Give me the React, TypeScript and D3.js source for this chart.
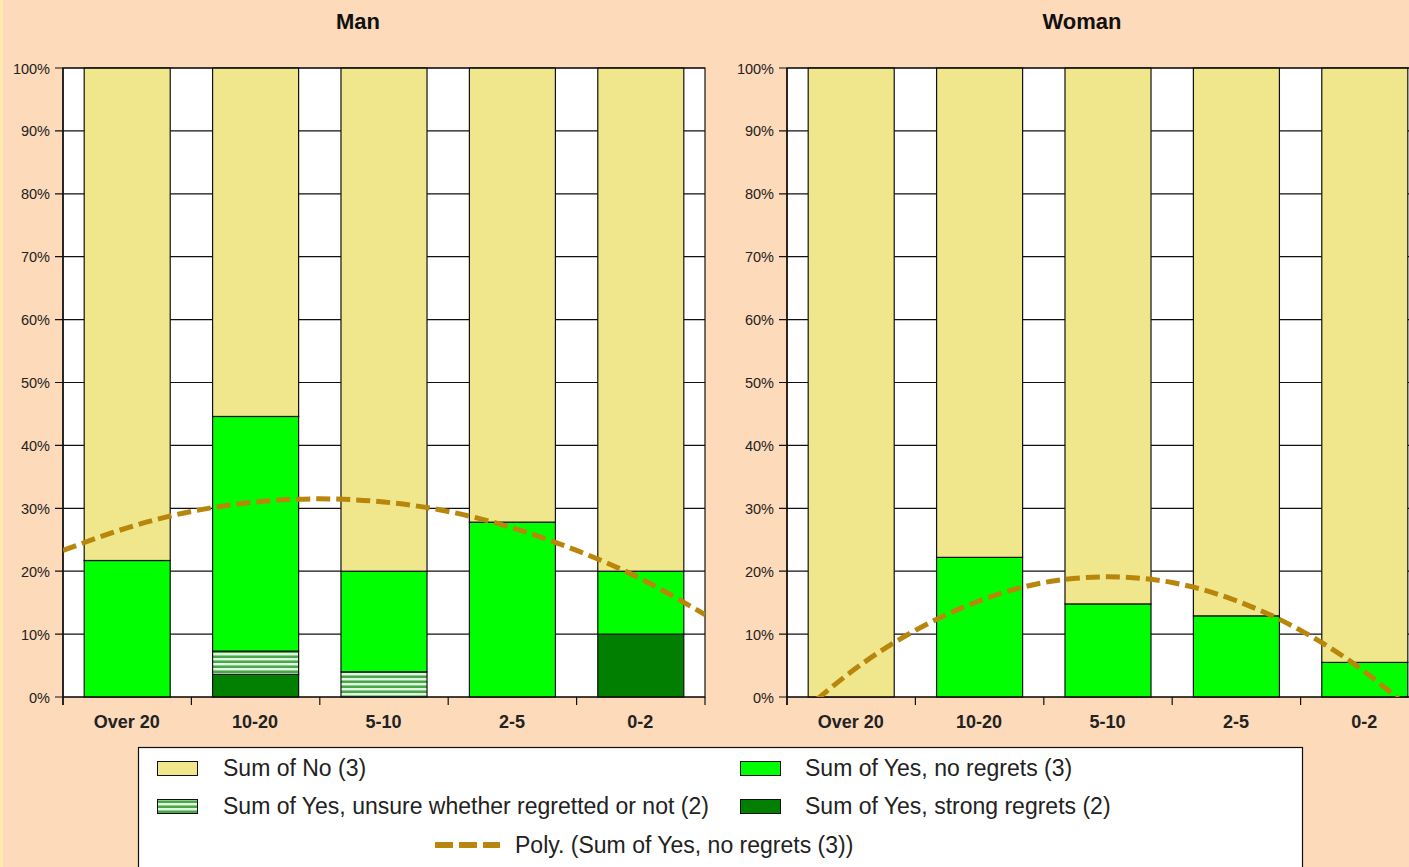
import React from "react";
import * as d3 from "d3";

const categories = ["Over 20", "10-20", "5-10", "2-5", "0-2"];
const yTicks = [0, 10, 20, 30, 40, 50, 60, 70, 80, 90, 100];

// Man (percent)
const manStrong = [0, 3.6, 0, 0, 10];
const manUnsure = [0, 3.7, 4.0, 0, 0];
const manNoRegrets = [21.7, 37.3, 16.0, 27.8, 10.0];
const manNo = [78.3, 55.4, 80.0, 72.2, 80.0];

// Woman (percent)
const womanStrong = [0, 0, 0, 0, 0];
const womanUnsure = [0, 0, 0, 0, 0];
const womanNoRegrets = [0, 22.2, 14.8, 12.9, 5.5];
const womanNo = [100, 77.8, 85.2, 87.1, 94.5];

// Poly trend line samples (x in category units, 1 = first category)
const trendX = [0.5, 1, 1.5, 2, 2.5, 3, 3.5, 4, 4.5, 5, 5.5];
const manTrend = [23.3, 26.9, 29.5, 31.0, 31.5, 31.0, 29.5, 26.9, 23.3, 18.8, 13.1];
const womanTrend = [-4.5, 4.0, 10.6, 15.3, 18.2, 19.1, 18.2, 15.3, 10.6, 4.0, -4.5];

const FONT = "'Liberation Sans', Arial, Helvetica, sans-serif";
const BG = "#FDDAB9";
const C_NO = "#F0E68C";
const C_NOREG = "#00FF00";
const C_STRONG = "#007F00";
const C_TREND = "#B8860B";

const PLOT_W = 642;
const Y_TOP = 68;
const Y_BOT = 697;

type PanelProps = {
  id: string;
  title: string;
  x0: number;
  strong: number[];
  unsure: number[];
  noRegrets: number[];
  no: number[];
  trend: number[];
};

function Panel({ id, title, x0, strong, unsure, noRegrets, no, trend }: PanelProps) {
  const x = d3.scaleBand<string>().domain(categories).range([x0, x0 + PLOT_W]).paddingInner(0.33).paddingOuter(0.165);
  const y = d3.scaleLinear().domain([0, 100]).range([Y_BOT, Y_TOP]);
  const step = x.step();
  const xt = d3.scaleLinear().domain([0.5, 5.5]).range([x0, x0 + PLOT_W]);
  const line = d3
    .line<number>()
    .x((_, i) => xt(trendX[i]))
    .y((d) => y(d))
    .curve(d3.curveNatural);

  const series = [
    { vals: strong, fill: C_STRONG },
    { vals: unsure, fill: `url(#hatch)` },
    { vals: noRegrets, fill: C_NOREG },
    { vals: no, fill: C_NO },
  ];

  return (
    <g>
      <text x={x0 + PLOT_W / 2 - 26} y={29} textAnchor="middle" fontFamily={FONT} fontWeight="bold" fontSize={22} fill="#111">
        {title}
      </text>
      <rect x={x0} y={Y_TOP} width={PLOT_W} height={Y_BOT - Y_TOP} fill="#fff" />
      {yTicks.map((t) => (
        <line key={t} x1={x0 - 8} x2={x0 + PLOT_W} y1={y(t)} y2={y(t)} stroke="#111" strokeWidth={1.2} />
      ))}
      {yTicks.map((t) => (
        <text key={"l" + t} x={x0 - 13} y={y(t) + 5.5} textAnchor="end" fontFamily={FONT} fontSize={14.5} fill="#222">
          {t}%
        </text>
      ))}
      {categories.map((c, i) => {
        let acc = 0;
        return (
          <g key={c}>
            {series.map((s, k) => {
              const v = s.vals[i];
              const y0 = acc;
              acc += v;
              if (v <= 0) return null;
              return (
                <rect
                  key={k}
                  x={x(c)!}
                  width={x.bandwidth()}
                  y={y(y0 + v)}
                  height={y(y0) - y(y0 + v)}
                  fill={s.fill}
                  stroke="#111"
                  strokeWidth={1.2}
                />
              );
            })}
          </g>
        );
      })}
      <rect x={x0} y={Y_TOP} width={PLOT_W} height={Y_BOT - Y_TOP} fill="none" stroke="#111" strokeWidth={1.2} />
      <line x1={x0} x2={x0} y1={Y_TOP} y2={Y_BOT + 8} stroke="#111" strokeWidth={1.5} />
      {d3.range(categories.length + 1).map((i) => (
        <line key={"t" + i} x1={x0 + i * step} x2={x0 + i * step} y1={Y_BOT} y2={Y_BOT + 8} stroke="#111" strokeWidth={1.2} />
      ))}
      {categories.map((c) => (
        <text key={"x" + c} x={x(c)! + x.bandwidth() / 2 - 0.5} y={728} textAnchor="middle" fontFamily={FONT} fontWeight="bold" fontSize={18} fill="#222">
          {c}
        </text>
      ))}
      <clipPath id={"clip" + id}>
        <rect x={x0} y={Y_TOP} width={PLOT_W} height={Y_BOT - Y_TOP} />
      </clipPath>
      <path
        d={line(trend) || ""}
        fill="none"
        stroke={C_TREND}
        strokeWidth={5}
        strokeDasharray="14 6"
        clipPath={`url(#clip${id})`}
      />
    </g>
  );
}

export default function App() {
  return (
    <div style={{ position: "fixed", left: 0, top: 0 }}>
      <svg width={1409} height={867} style={{ display: "block" }}>
        <defs>
          <pattern id="hatch" patternUnits="userSpaceOnUse" width={8} height={5}>
            <rect width={8} height={5} fill="#E4F4E4" />
            <rect y={0} width={8} height={1} fill="#8CCB8C" />
            <rect y={1} width={8} height={2} fill="#46A846" />
          </pattern>
        </defs>
        <rect width={1409} height={867} fill={BG} />
        <rect width={3} height={867} fill="#FFE9AE" />
        <Panel id="m" title="Man" x0={63} strong={manStrong} unsure={manUnsure} noRegrets={manNoRegrets} no={manNo} trend={manTrend} />
        <Panel id="w" title="Woman" x0={787} strong={womanStrong} unsure={womanUnsure} noRegrets={womanNoRegrets} no={womanNo} trend={womanTrend} />
        <g fontFamily={FONT} fontSize={23} fill="#222">
          <rect x={138.5} y={747.5} width={1164} height={140} fill="#fff" stroke="#111" strokeWidth={1.2} />
          <rect x={157.5} y={761.5} width={40} height={14} fill={C_NO} stroke="#111" />
          <text x={223} y={776}>Sum of No (3)</text>
          <rect x={740.5} y={761.5} width={40} height={14} fill={C_NOREG} stroke="#111" />
          <text x={805} y={776}>Sum of Yes, no regrets (3)</text>
          <rect x={157.5} y={799.5} width={40} height={14} fill="url(#hatch)" stroke="#111" />
          <text x={223} y={814}>Sum of Yes, unsure whether regretted or not (2)</text>
          <rect x={740.5} y={799.5} width={40} height={14} fill={C_STRONG} stroke="#111" />
          <text x={805} y={814}>Sum of Yes, strong regrets (2)</text>
          <line x1={435} x2={500} y1={845} y2={845} stroke={C_TREND} strokeWidth={6} strokeDasharray="18 6" />
          <text x={515} y={853}>Poly. (Sum of Yes, no regrets (3))</text>
        </g>
      </svg>
    </div>
  );
}
